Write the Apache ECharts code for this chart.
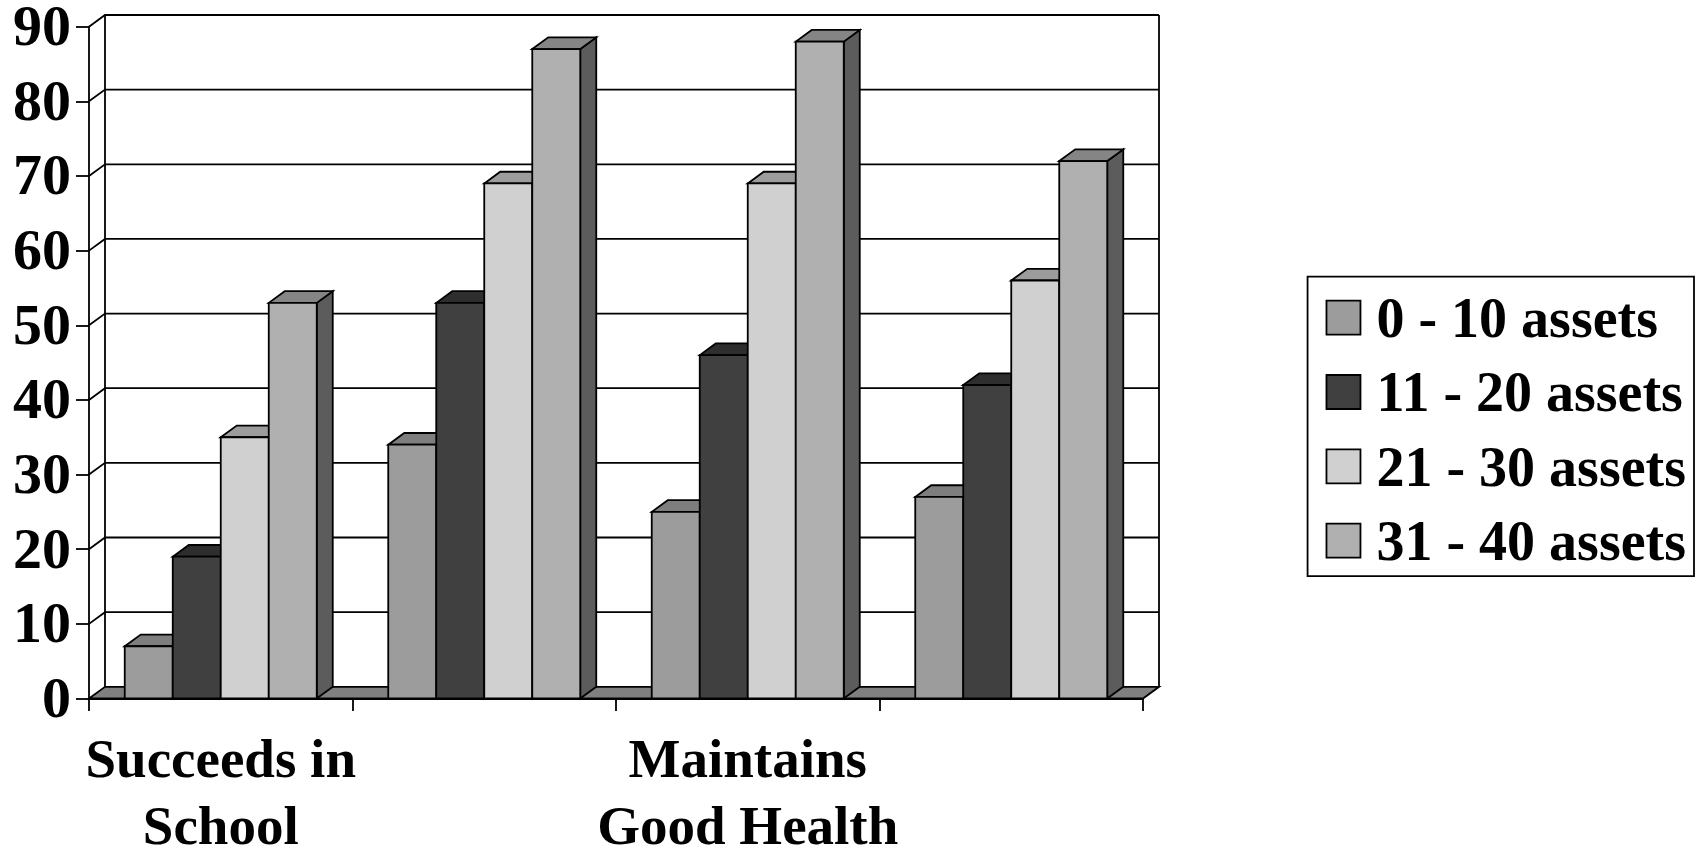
<!DOCTYPE html>
<html>
<head>
<meta charset="utf-8">
<style>html,body{margin:0;padding:0;background:#fff}#c{width:1700px;height:848px}</style>
<script src="https://cdn.jsdelivr.net/npm/echarts@6/dist/echarts.min.js"></script>
</head>
<body>
<div id="c"></div>
<script>
const categories = ['Succeeds in\nSchool', '', 'Maintains\nGood Health', ''];
const seriesNames = ['0 - 10 assets', '11 - 20 assets', '21 - 30 assets', '31 - 40 assets'];
const assets0to10 = [7, 34, 25, 27];
const assets11to20 = [19, 53, 46, 42];
const assets21to30 = [35, 69, 69, 56];
const assets31to40 = [53, 87, 88, 72];
const yTicks = [0, 10, 20, 30, 40, 50, 60, 70, 80, 90];
const frontColors = ['#9c9c9c', '#404040', '#d0d0d0', '#b0b0b0'];
const topColors = ['#7e7e7e', '#2e2e2e', '#9c9c9c', '#858585'];
const sideColors = ['#5c5c5c', '#2a2a2a', '#8a8a8a', '#5c5c5c'];
const floorColor = '#808080';
const DX = 16, DY = 11.7, LW = 1.8, FONT = '"Liberation Serif"', FS = 55;

const chart = echarts.init(document.getElementById('c'), null, {renderer: 'canvas'});

function wallItem(params, api) {
  const v = api.value(0);
  const cs = params.coordSys;
  const left = cs.x, right = cs.x + cs.width;
  const y = api.coord([0, v])[1];
  const line = {stroke: '#000', lineWidth: LW, fill: null};
  const children = [];
  if (v === yTicks[0]) {
    const top = api.coord([0, yTicks[yTicks.length - 1]])[1];
    children.push({type: 'polygon', shape: {points: [[left, y], [left + DX, y - DY], [right + DX, y - DY], [right, y]]},
      style: {fill: floorColor, stroke: '#000', lineWidth: LW}});
    children.push({type: 'line', shape: {x1: left + DX, y1: y - DY, x2: left + DX, y2: top - DY}, style: line});
    children.push({type: 'line', shape: {x1: right + DX, y1: y - DY, x2: right + DX, y2: top - DY}, style: line});
  } else {
    children.push({type: 'polyline', shape: {points: [[left, y], [left + DX, y - DY], [right + DX, y - DY]]}, style: line});
  }
  return {type: 'group', children};
}

function barItem(params, api) {
  const i = params.seriesIndex - 1;
  const cat = api.value(0), val = api.value(1);
  const catW = api.size([1, 0])[0];
  const w = catW * 0.7287 / 4;
  const c = api.coord([cat, val]);
  const base = api.coord([cat, 0])[1];
  const x0 = c[0] + (i - 2) * w, x1 = x0 + w, y = c[1];
  const st = fill => ({fill, stroke: '#000', lineWidth: LW, lineJoin: 'miter'});
  return {type: 'group', children: [
    {type: 'polygon', shape: {points: [[x1, y], [x1 + DX, y - DY], [x1 + DX, base - DY], [x1, base]]}, style: st(sideColors[i])},
    {type: 'polygon', shape: {points: [[x0, y], [x0 + DX, y - DY], [x1 + DX, y - DY], [x1, y]]}, style: st(topColors[i])},
    {type: 'rect', shape: {x: x0, y, width: w, height: base - y}, style: st(frontColors[i])}
  ]};
}

const values = [assets0to10, assets11to20, assets21to30, assets31to40];
const option = {
  animation: false,
  backgroundColor: '#fff',
  textStyle: {fontFamily: FONT},
  grid: {left: 89, top: 26.7, width: 1054, height: 671.8, containLabel: false, outerBoundsMode: 'none'},
  legend: {
    right: 6, top: 276.7,
    orient: 'vertical',
    selectedMode: false,
    backgroundColor: '#fff',
    borderColor: '#000', borderWidth: LW, borderRadius: 0,
    padding: [18, 8, 2.5, 18],
    itemWidth: 34, itemHeight: 34, itemGap: 18.3,
    formatter: name => '{t|' + name + '}',
    textStyle: {
      fontFamily: FONT, fontWeight: 'bold', fontSize: 56, color: '#000',
      rich: {t: {fontFamily: FONT, fontWeight: 'bold', fontSize: 56, color: '#000', padding: [10, 0, 0, 11]}}
    },
    data: seriesNames.map((name, i) => ({name, icon: 'rect',
      itemStyle: {color: frontColors[i], borderColor: '#000', borderWidth: LW}}))
  },
  xAxis: {
    type: 'category', data: categories, boundaryGap: true,
    axisLine: {show: true, lineStyle: {color: '#000', width: LW}},
    axisTick: {show: true, length: 12.5, alignWithLabel: false, interval: 0, lineStyle: {color: '#000', width: LW}},
    axisLabel: {show: true, interval: 0, margin: 31, fontFamily: FONT, fontWeight: 'bold', fontSize: FS, lineHeight: 67, color: '#000', overflow: 'none', hideOverlap: false},
    splitLine: {show: false}
  },
  yAxis: {
    type: 'value', min: 0, max: 90, interval: 10,
    axisLine: {show: true, lineStyle: {color: '#000', width: LW}},
    axisTick: {show: true, length: 13, lineStyle: {color: '#000', width: LW}},
    axisLabel: {show: true, margin: 18, color: '#000', formatter: '{n|{value}}',
      rich: {n: {fontFamily: FONT, fontWeight: 'bold', fontSize: 58, color: '#000', padding: [7, 0, 0, 0]}}},
    splitLine: {show: false}
  },
  series: [
    {type: 'custom', name: 'wall', renderItem: wallItem, data: yTicks.map(v => [v]), encode: {y: 0}, clip: false, silent: true}
  ].concat(seriesNames.map((name, s) => ({
    type: 'custom', name, renderItem: barItem, clip: false,
    itemStyle: {color: frontColors[s]},
    encode: {x: 0, y: 1},
    data: values[s].map((v, c) => [c, v])
  })))
};
chart.setOption(option);
</script>
</body>
</html>
